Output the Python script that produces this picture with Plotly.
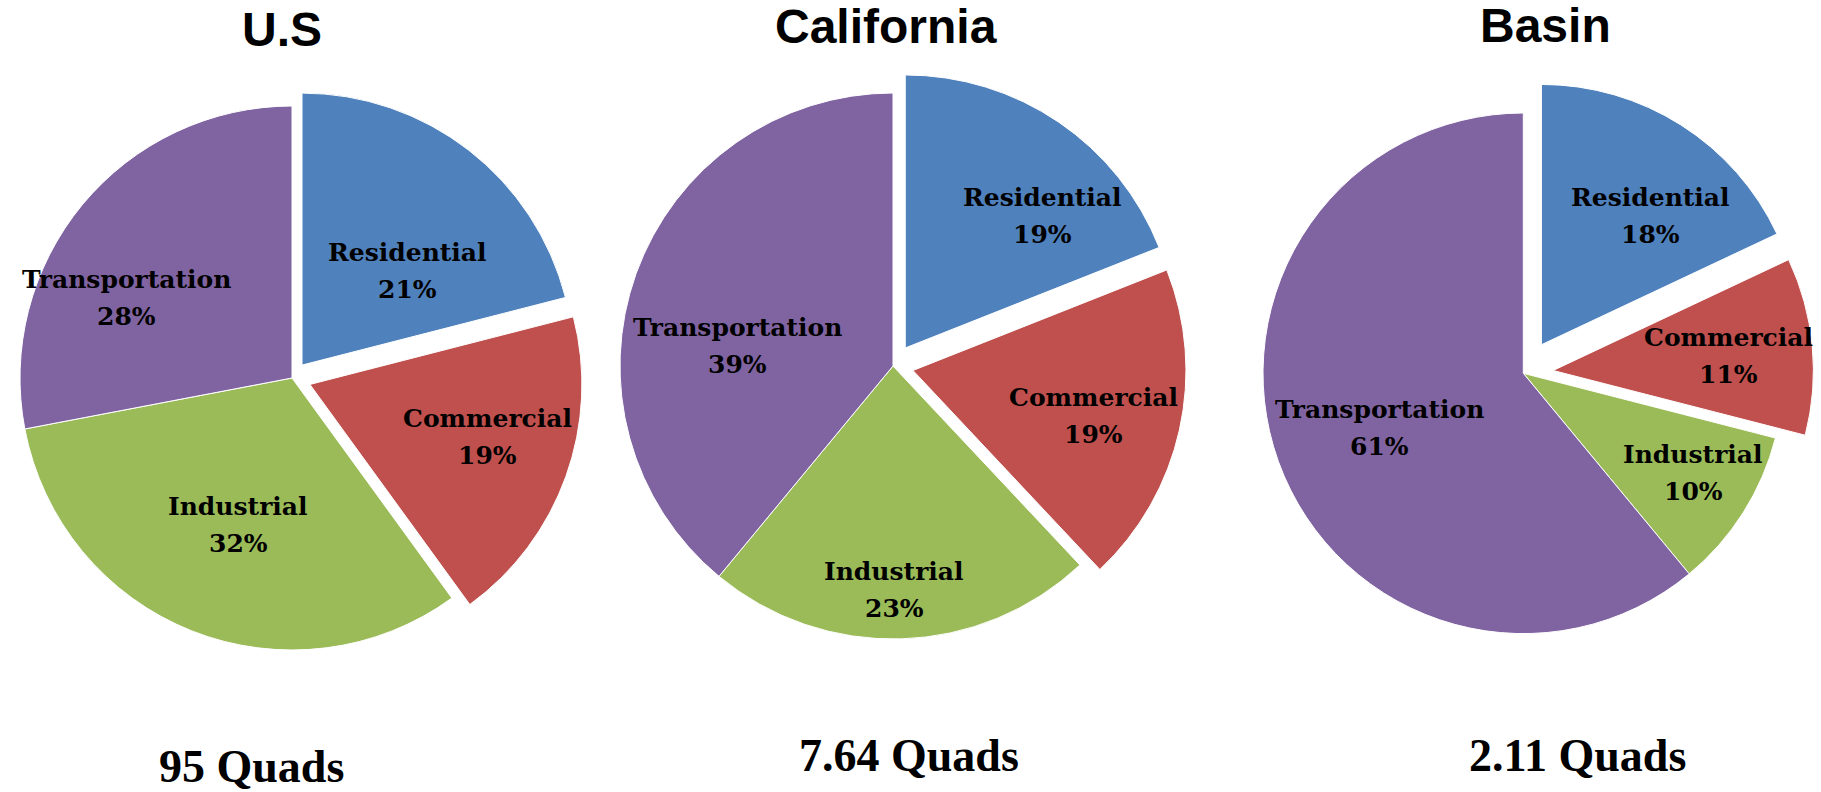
import math
import plotly.graph_objects as go

# ---------------- data ----------------
categories = ["Residential", "Commercial", "Industrial", "Transportation"]
us_values = [21, 19, 32, 28]
ca_values = [19, 19, 23, 39]
basin_values = [18, 11, 10, 61]
titles = ["U.S", "California", "Basin"]
totals = ["95 Quads", "7.64 Quads", "2.11 Quads"]

# ---------------- style / layout ----------------
colors = ["#4F81BD", "#C0504D", "#9BBB59", "#8064A2"]
W, H = 1821, 792

# pie geometry in pixels: centre x, centre y, radius, pulls
geometry = [
    dict(cx=292, cy=378, r=272, pull=[0.06, 0.07, 0, 0]),
    dict(cx=893, cy=366, r=273, pull=[0.08, 0.075, 0, 0]),
    dict(cx=1523.3, cy=373.3, r=260.3, pull=[0.13, 0.115, 0, 0]),
]
# label placement (fraction of radius, angle offset from slice mid-angle in degrees)
label_radius = [
    [0.578, 0.75, 0.576, 0.677],
    [0.777, 0.758, 0.82, 0.574],
    [0.777, 0.793, 0.756, 0.591],
]
label_angle_offset = [
    [9.5, -2.9, -1.5, -13.8],
    [10.8, 1.3, 1.5, -12.5],
    [6.5, 0.6, -2.0, -1.2],
]

all_values = [us_values, ca_values, basin_values]

fig = go.Figure()
annotations = []
label_font = dict(family="DejaVu Serif", size=25, color="black", weight="bold")

for k, (vals, g) in enumerate(zip(all_values, geometry)):
    half = g["r"] * (1 + max(g["pull"]))
    x0, x1 = (g["cx"] - half) / W, (g["cx"] + half) / W
    y0, y1 = 1 - (g["cy"] + half) / H, 1 - (g["cy"] - half) / H
    fig.add_trace(go.Pie(
        labels=categories,
        values=vals,
        sort=False,
        direction="clockwise",
        rotation=0,
        pull=g["pull"],
        marker=dict(colors=colors, line=dict(color="white", width=1)),
        textinfo="none",
        domain=dict(x=[max(0, x0), min(1, x1)], y=[max(0, y0), min(1, y1)]),
        showlegend=False,
        hoverinfo="label+percent",
    ))
    total = sum(vals)
    cum = 0
    for i, (cat, v) in enumerate(zip(categories, vals)):
        mid = (cum + v / 2) / total * 360
        cum += v
        ang = math.radians(mid + label_angle_offset[k][i])
        d = label_radius[k][i] * g["r"]
        px = g["cx"] + d * math.sin(ang)
        py = g["cy"] - d * math.cos(ang)
        pct = f"{round(100 * v / total)}%"
        for txt, ys in ((cat, 18.5), (pct, -18.5)):
            annotations.append(dict(text=txt, x=px / W, y=1 - py / H, xref="paper", yref="paper",
                                    yshift=ys, showarrow=False, xanchor="center", yanchor="middle",
                                    font=label_font))

title_x = [282, 886, 1545]
title_y = [29, 27, 25]
total_x = [251, 909, 1577]
total_y = [766, 755, 755]

for t, x, y in zip(titles, title_x, title_y):
    annotations.append(dict(text=t, x=x / W, y=1 - y / H, xref="paper", yref="paper",
                            showarrow=False, xanchor="center", yanchor="middle",
                            font=dict(family="Liberation Sans", size=48, color="black", weight="bold")))
for t, x, y in zip(totals, total_x, total_y):
    annotations.append(dict(text=t, x=x / W, y=1 - y / H, xref="paper", yref="paper",
                            showarrow=False, xanchor="center", yanchor="middle",
                            font=dict(family="Liberation Serif", size=46, color="black", weight="bold")))

fig.update_layout(
    width=W, height=H,
    margin=dict(l=0, r=0, t=0, b=0),
    paper_bgcolor="white",
    plot_bgcolor="white",
    annotations=annotations,
)

fig.write_html("out.html",
               config={"displayModeBar": False},
               post_script="document.body.style.margin='0px';document.documentElement.style.overflow='hidden';")
